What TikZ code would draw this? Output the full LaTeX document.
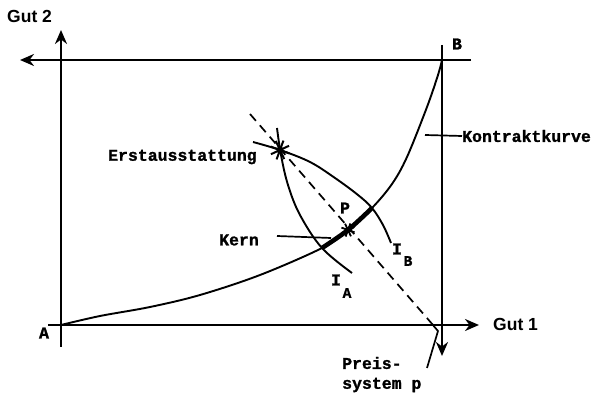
\documentclass[tikz,border=0pt]{standalone}
\usepackage{fontspec}
\setmainfont{Liberation Sans}
\setsansfont{Liberation Sans}
\setmonofont{Liberation Mono}
\newfontfamily\twfont{Liberation Mono}[FakeBold=1.3]
\usetikzlibrary{arrows.meta}
\begin{document}
\begin{tikzpicture}[x=1pt,y=-1pt,
  axis/.style={line width=2.9pt,-{Stealth[length=14pt,width=12pt]}},
  curve/.style={line width=1.9pt},
  lead/.style={line width=1.7pt},
  tw/.style={font=\fontsize{16.5}{18}\selectfont\twfont\bfseries, inner sep=0pt},
  tws/.style={font=\fontsize{14.5}{16}\selectfont\twfont\bfseries, inner sep=0pt},
  sf/.style={font=\fontsize{17.5}{19}\selectfont\sffamily\bfseries, inner sep=0pt}]
\useasboundingbox (0,0) rectangle (592,395);
% axes and frame
\coordinate (a1) at (61,347); \coordinate (a2) at (61,30);
\coordinate (t1) at (471,60); \coordinate (t2) at (20,60);
\coordinate (r1) at (442,45); \coordinate (r2) at (442,356);
\coordinate (b1) at (48,325); \coordinate (b2) at (479,325);
\draw[axis] (a1) -- (a2);
\draw[axis] (t1) -- (t2);
\draw[axis] (r1) -- (r2);
\draw[axis] (b1) -- (b2);
% labels of axes
\node[sf, anchor=west] (gut2) at (7,16) {Gut 2};
\node[sf, anchor=west] (gut1) at (493,324) {Gut 1};
\node[tw, anchor=center] (A) at (44,333) {A};
\node[tw, anchor=center] (B) at (457,44) {B};
% contract curve
\draw[curve] plot[smooth, tension=0.55] coordinates {(61,325) (100,316) (150,307) (200,295) (260,275) (322,248) (348,230) (372,208) (392,184) (407,157) (427,107) (438,75) (442,60)};
% core (bold segment)
\draw[line width=4.6pt] plot[smooth, tension=0.55] coordinates {(322,248) (348,230) (372,208)};
% indifference curves
\draw[curve] plot[smooth, tension=0.6] coordinates {(277,128) (281,155) (288,185) (300,215) (322,248) (352,273)};
\draw[curve] plot[smooth, tension=0.6] coordinates {(253,142) (280,150) (310,162) (335,178) (358,195) (372,208) (383,225) (391,243)};
% price line
\coordinate (p1) at (250,114); \coordinate (p2) at (433,325);
\draw[line width=1.7pt, dash pattern=on 9pt off 6pt] (p1) -- (p2);
% stars
\coordinate (E) at (280,150);
\coordinate (P) at (348,230);
\foreach \a in {20,65,110,155} \draw[line width=2pt] (E) ++(\a:10) -- ++(\a+180:20);
\fill (E) circle (3.5pt);
\foreach \a in {20,65,110,155} \draw[line width=1.8pt] (P) ++(\a:7) -- ++(\a+180:14);
\fill (P) circle (2.5pt);
% labels
\node[tw, anchor=west] (erst) at (108,157) {Erstausstattung};
\node[tw] (Plab) at (345,208) {P};
\node[tw, anchor=west] (kern) at (219,240) {Kern};
\coordinate (k1) at (277,236); \coordinate (k2) at (331,238);
\draw[lead] (k1) -- (k2);
\node[tw] (IA) at (336,280) {I};
\node[tws] (IAs) at (347,293) {A};
\node[tw] (IB) at (397,249) {I};
\node[tws] (IBs) at (408,261) {B};
\node[tw, anchor=west] (kontr) at (462,136) {Kontraktkurve};
\coordinate (c1) at (425,135);
\draw[lead] (c1) -- (kontr.west);
\node[tw, anchor=west] (preis1) at (342,363) {Preis-};
\node[tw, anchor=west] (preis2) at (342,385) {system p};
\coordinate (q1) at (427,368); \coordinate (q2) at (438,331); \coordinate (q3) at (432,324);
\draw[lead] (q1) -- (q2) -- (q3);
\end{tikzpicture}
\end{document}
